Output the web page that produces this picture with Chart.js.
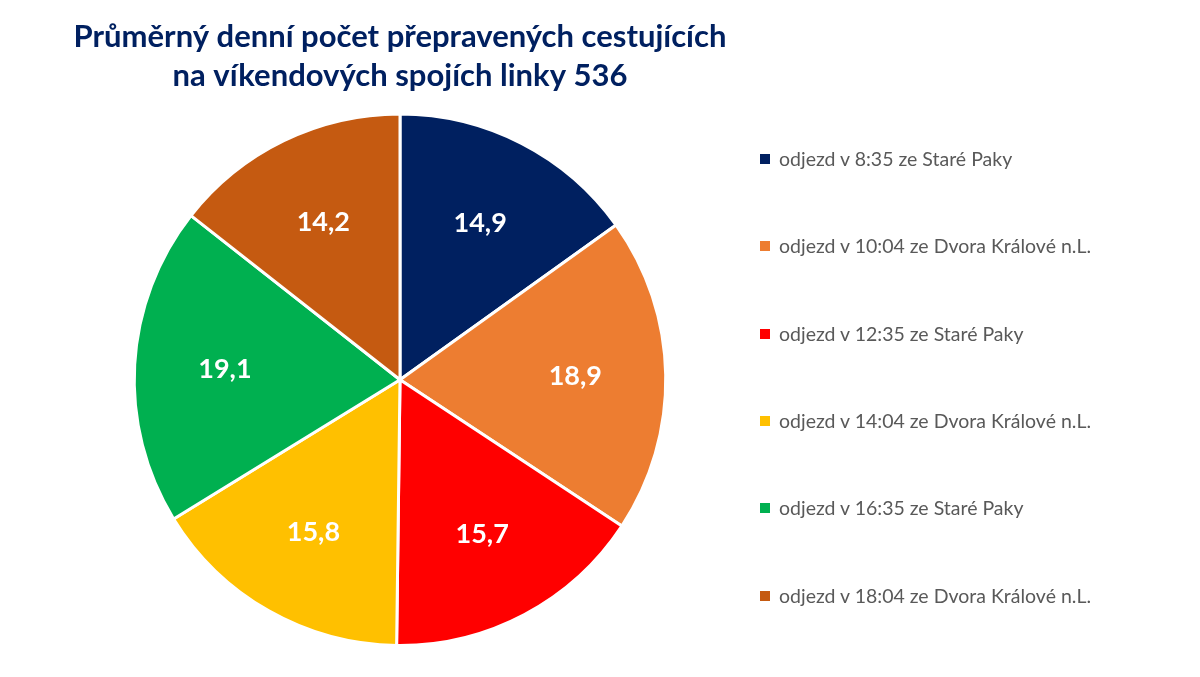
<!DOCTYPE html>
<html>
<head>
<meta charset="utf-8">
<script src="https://cdn.jsdelivr.net/npm/chart.js@4"></script>
<style>
  body { margin: 0; background: #fff; font-family: Lato, sans-serif; }
  #wrap { position: relative; width: 1200px; height: 677px; }
  #chartBox { position: absolute; left: 0; top: 0; width: 1034px; height: 677px; }
  #legend { position: absolute; left: 760px; top: 0; }
  .item { position: absolute; white-space: nowrap; font-size: 19.5px; color: #595959; }
  .item span { display: inline-block; width: 10px; height: 10px; margin-right: 9px; vertical-align: 2px; }
</style>
</head>
<body>
<div id="wrap">
  <div id="chartBox"><canvas id="pieChart"></canvas></div>
  <div id="legend"></div>
</div>
<script>
const labels = [
    'odjezd v 8:35 ze Staré Paky',
    'odjezd v 10:04 ze Dvora Králové n.L.',
    'odjezd v 12:35 ze Staré Paky',
    'odjezd v 14:04 ze Dvora Králové n.L.',
    'odjezd v 16:35 ze Staré Paky',
    'odjezd v 18:04 ze Dvora Králové n.L.',
];
const values = [14.9, 18.9, 15.7, 15.8, 19.1, 14.2];
const sliceColors = ['#002060', '#ED7D31', '#FF0000', '#FFC000', '#00B050', '#C55A11'];

const legendEl = document.getElementById('legend');
labels.forEach((label, i) => {
    const div = document.createElement('div');
    div.className = 'item';
    div.style.top = (147 + i * 87.3) + 'px';
    div.innerHTML = '<span style="background:' + sliceColors[i] + '"></span>' + label;
    legendEl.appendChild(div);
});

const sliceLabels = {
    id: 'sliceLabels',
    afterDatasetsDraw(chart) {
        const ctx = chart.ctx;
        const meta = chart.getDatasetMeta(0);
        ctx.save();
        ctx.fillStyle = '#fff';
        ctx.font = 'bold 27px Lato';
        ctx.textAlign = 'center';
        ctx.textBaseline = 'middle';
        meta.data.forEach((arc, i) => {
            const p = arc.getProps(['x', 'y', 'startAngle', 'endAngle', 'outerRadius']);
            const a = (p.startAngle + p.endAngle) / 2;
            const r = p.outerRadius * 0.66;
            ctx.fillText(values[i].toFixed(1).replace('.', ','), p.x + Math.cos(a) * r, p.y + Math.sin(a) * r);
        });
        ctx.restore();
    }
};

new Chart(document.getElementById('pieChart'), {
    type: 'pie',
    data: {
        labels: labels,
        datasets: [{
            data: values,
            backgroundColor: sliceColors,
            borderColor: '#ffffff',
            borderWidth: 3,
        }]
    },
    options: {
        responsive: true,
        maintainAspectRatio: false,
        animation: false,
        layout: { padding: { right: 234, bottom: 30 } },
        plugins: {
            legend: { display: false },
            tooltip: { enabled: false },
            title: {
                display: true,
                text: ['Průměrný denní počet přepravených cestujících', 'na víkendových spojích linky 536'],
                color: '#002060',
                font: { family: 'Lato', size: 31, weight: 'bold', lineHeight: 1.25 },
                padding: { top: 18, bottom: 17 },
            }
        }
    },
    plugins: [sliceLabels]
});
</script>
</body>
</html>
